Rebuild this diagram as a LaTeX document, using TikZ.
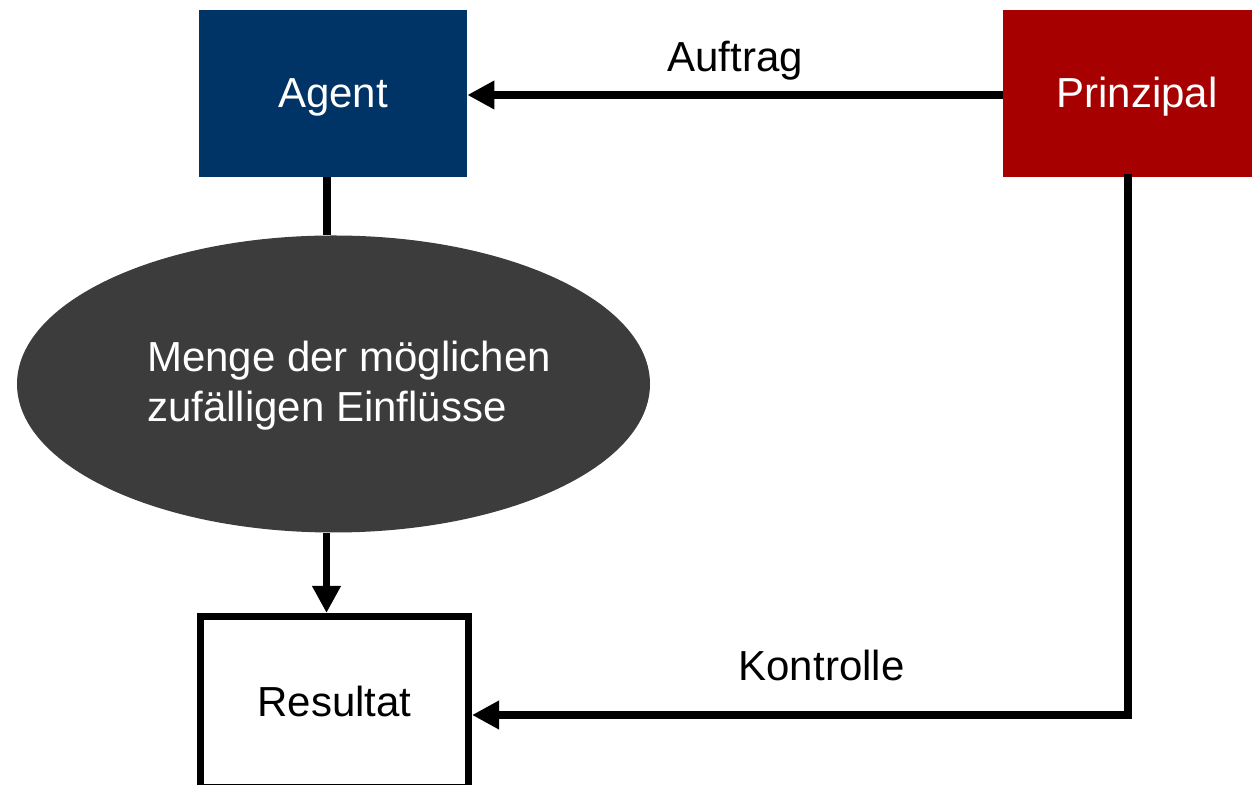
\documentclass[tikz,border=0pt]{standalone}
\usepackage{fontspec}
\setmainfont{Liberation Sans}
\usetikzlibrary{arrows.meta,shapes.geometric}
\definecolor{Dunkelblau}{RGB}{0, 51, 102}
\definecolor{Dunkelrot}{RGB}{166, 0, 0}
\definecolor{Dunkelgrau}{RGB}{60, 60, 60}
\tikzset{
  schrift/.style={font=\fontsize{23.9}{28.5}\selectfont},
  kasten/.style={rectangle, minimum width=5.36cm, minimum height=3.34cm, inner sep=0pt, text height=0.58cm, text depth=0pt, schrift},
  linie/.style={line width=4.2pt},
  pfeil/.style={linie, -{Triangle[length=0.54cm, width=0.54cm]}}
}

\begin{document}
\begin{tikzpicture}
            \useasboundingbox (0,0) rectangle (25.04,15.68);
            \clip (0,0) rectangle (25.04,15.68);
            %Kaesten oben
            \node[kasten, fill=Dunkelblau, text=white] (agent) at (6.66,13.81) {Agent};
            \node[kasten, fill=Dunkelrot, text=white] (prinzipal) at (22.74,13.81) {Prinzipal};
            \draw[pfeil] ([yshift=-0.03cm]prinzipal.west) -- ([yshift=-0.03cm]agent.east);
            \node[schrift, anchor=base] (auftrag) at (14.70,14.24) {Auftrag};
            %Zufall
            \node[ellipse, fill=Dunkelgrau, minimum width=12.66cm, minimum height=5.94cm, inner sep=0pt] (menge) at (6.67,8.00) {};
            \node[schrift, text=white, align=left] (mengetext) at (6.98,7.97) {Menge der möglichen\\zufälligen Einflüsse};
            \draw[linie] ([xshift=-0.12cm]agent.south) -- ([xshift=-0.12cm]agent.south |- menge.north);
            %Resultat
            \node[kasten, draw, line width=4pt, fill=white, minimum height=3.42cm] (resultat) at (6.69,1.64) {Resultat};
            \draw[pfeil] ([xshift=-0.14cm]menge.south) -- ([xshift=-0.14cm]menge.south |- resultat.north);
            \coordinate (ecke) at (22.56,1.38);
            \draw[linie, line cap=rect] (prinzipal.south -| ecke) -- (ecke);
            \draw[pfeil] (ecke) -- (ecke -| resultat.east);
            \node[schrift, anchor=base] (kontrolle) at (16.43,2.08) {Kontrolle};
        \end{tikzpicture}
\end{document}
